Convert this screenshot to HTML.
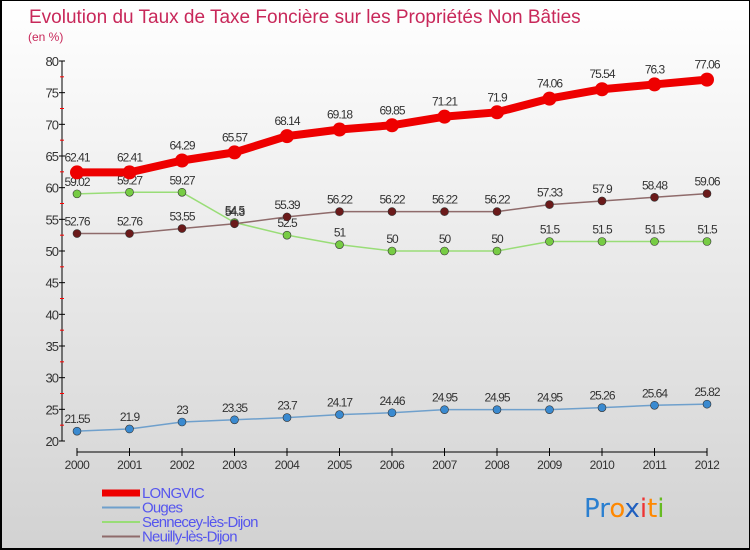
<!DOCTYPE html>
<html><head><meta charset="utf-8"><style>
body{margin:0}
#c{width:750px;height:550px;position:relative;box-sizing:border-box;border:1px solid #000;border-width:1px 1px 2px 2px;background:linear-gradient(#fff,#d2d2d2);font-family:"Liberation Sans",sans-serif;overflow:hidden}
</style></head><body>
<div id="c">
<svg id="s" width="750" height="550"></svg>
</div>
<script>
const years=["2000","2001","2002","2003","2004","2005","2006","2007","2008","2009","2010","2011","2012"];
const longvic=[62.41,62.41,64.29,65.57,68.14,69.18,69.85,71.21,71.9,74.06,75.54,76.3,77.06];
const ouges=[21.55,21.9,23,23.35,23.7,24.17,24.46,24.95,24.95,24.95,25.26,25.64,25.82];
const sennecey=[59.02,59.27,59.27,54.5,52.5,51,50,50,50,51.5,51.5,51.5,51.5];
const neuilly=[52.76,52.76,53.55,54.3,55.39,56.22,56.22,56.22,56.22,57.33,57.9,58.48,59.06];
const yTicks=[20,25,30,35,40,45,50,55,60,65,70,75,80];
const names=["LONGVIC","Ouges","Sennecey-lès-Dijon","Neuilly-lès-Dijon"];
const S=document.getElementById('s'),NS='http://www.w3.org/2000/svg';
function x(i){return 75+i*52.5}
function y(v){return 440-(v-20)*380/60}
function el(t,a,p){const e=document.createElementNS(NS,t);for(const k in a)e.setAttribute(k,a[k]);(p||S).appendChild(e);return e}
let t=el('text',{x:27,y:22,'font-size':19,fill:'#c8285a'});t.textContent="Evolution du Taux de Taxe Foncière sur les Propriétés Non Bâties";

t=el('text',{x:26,y:40,'font-size':12,fill:'#c8285a'});t.textContent="(en %)";

let ax=el('line',{x1:60,y1:y(80),x2:60,y2:y(20),stroke:'#000'});

yTicks.forEach((v,i)=>{el('line',{x1:57,x2:63,y1:y(v),y2:y(v),stroke:'#000'});
 if(i<yTicks.length-1)el('line',{x1:58,x2:62,y1:y(v+2.5),y2:y(v+2.5),stroke:'#f00'});
 const tx=el('text',{x:56,y:y(v)+5,'font-size':13,fill:'#333','text-anchor':'end','letter-spacing':'-1'});tx.textContent=v;
 });
let xa=el('line',{x1:x(0),x2:x(12),y1:451,y2:451,stroke:'#000'});

years.forEach((yr,i)=>{el('line',{x1:x(i),x2:x(i),y1:447,y2:455,stroke:'#000'});
 const tx=el('text',{x:x(i),y:468,'font-size':12,fill:'#333','text-anchor':'middle','letter-spacing':'-0.5'});tx.textContent=yr;
 });
const series=[[ouges,'#6fa0cc','#3a8ad0',1.5,4,'#000'],[sennecey,'#99dd77','#77cc44',1.5,4,'#000'],[neuilly,'#8f6b6b','#6b1a1a',1.5,4,'#000'],[longvic,'#ee0000','#ee0000',8,7,'#333']];
const snames=['ouges','sennecey','neuilly','longvic'];
series.forEach((s,k)=>{const d=s[0];
 const g=el('g',{});
 el('polyline',{points:d.map((v,i)=>x(i)+','+y(v)).join(' '),fill:'none',stroke:s[1],'stroke-width':s[3],'stroke-linejoin':'round'},g);
 d.forEach((v,i)=>{const c=el('circle',{cx:x(i),cy:y(v),r:s[4],fill:s[2],stroke:k==3?'none':'#333','stroke-width':0.6},g);
  
  const tx=el('text',{x:x(i),y:y(v)-8-(k==3?3:0),'font-size':12,fill:'#333','text-anchor':'middle','letter-spacing':'-1'},g);tx.textContent=v;
  });});
const lc=['#ee0000','#6fa0cc','#99dd77','#8f6b6b'],lw=[7,2,2,2];
names.forEach((n,i)=>{const yy=492+i*14.5;
 const g=el('g',{});
 el('line',{x1:100,x2:138,y1:yy,y2:yy,stroke:lc[i],'stroke-width':lw[i]},g);
 const tx=el('text',{x:140,y:yy+5,'font-size':15,fill:'#5555ee','letter-spacing':'-0.8'},g);tx.textContent=n;});
const lg=el('text',{x:582,y:516,'font-size':26,'font-family':'"DejaVu Sans",sans-serif'});

[['Pr','#2a7fd0'],['o','#ff8800'],['x','#1f5fbf'],['i','#ee3333'],['t','#ff8800'],['i','#66bb22']].forEach(p=>{const ts=el('tspan',{fill:p[1]},lg);ts.textContent=p[0];});
</script>
</body></html>
